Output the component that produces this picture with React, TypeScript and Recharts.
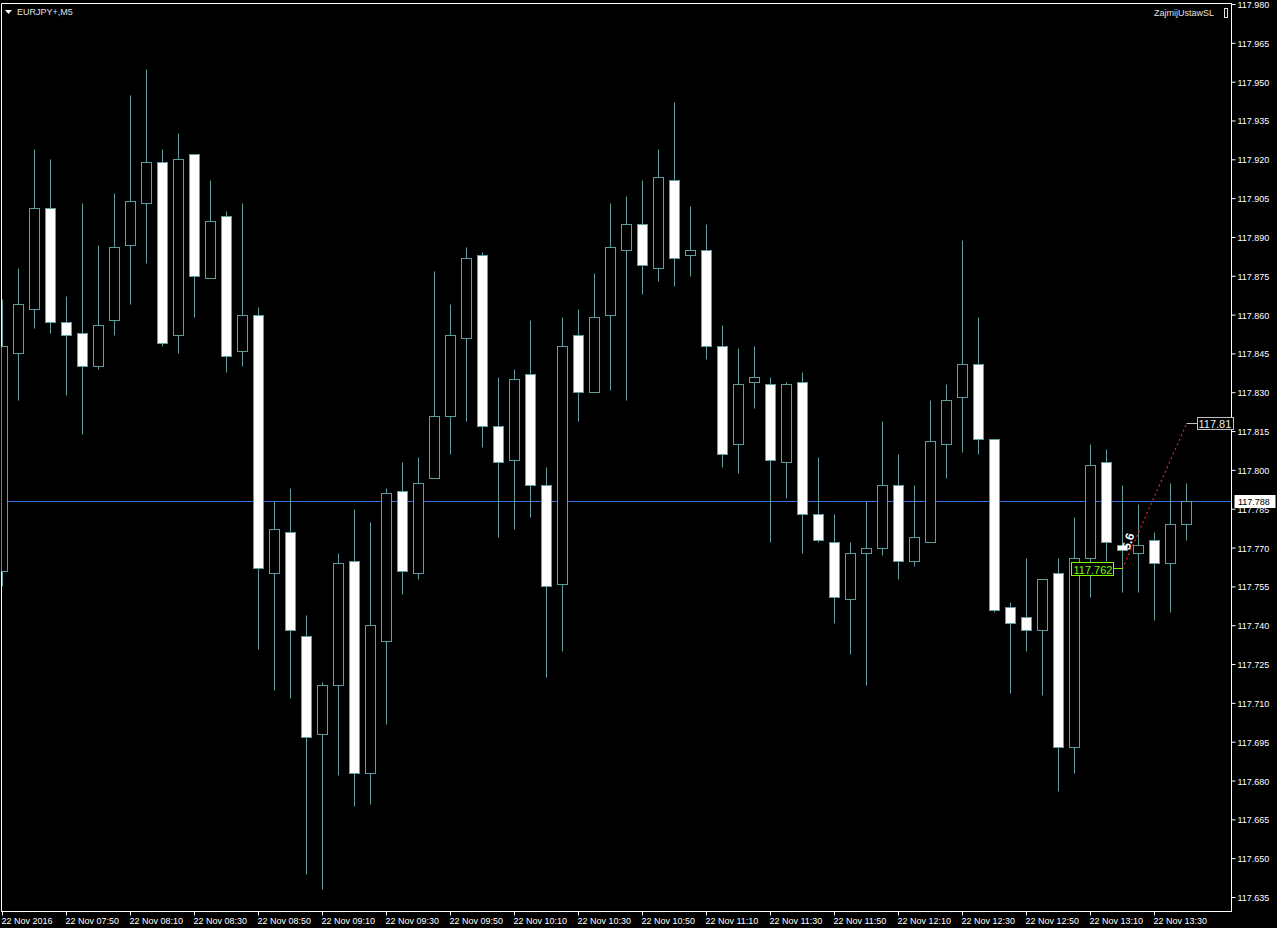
import React from 'react';
import {
  ComposedChart,
  Bar,
  XAxis,
  YAxis,
  ReferenceLine,
  ReferenceDot,
  ReferenceArea,
} from 'recharts';

// ---- data (EURJPY+, M5, 22 Nov 2016, bars from 07:30) ----
const times = [
  '07:30', '07:35', '07:40', '07:45', '07:50', '07:55', '08:00', '08:05', '08:10', '08:15',
  '08:20', '08:25', '08:30', '08:35', '08:40', '08:45', '08:50', '08:55', '09:00', '09:05',
  '09:10', '09:15', '09:20', '09:25', '09:30', '09:35', '09:40', '09:45', '09:50', '09:55',
  '10:00', '10:05', '10:10', '10:15', '10:20', '10:25', '10:30', '10:35', '10:40', '10:45',
  '10:50', '10:55', '11:00', '11:05', '11:10', '11:15', '11:20', '11:25', '11:30', '11:35',
  '11:40', '11:45', '11:50', '11:55', '12:00', '12:05', '12:10', '12:15', '12:20', '12:25',
  '12:30', '12:35', '12:40', '12:45', '12:50', '12:55', '13:00', '13:05', '13:10', '13:15',
  '13:20', '13:25', '13:30', '13:35', '13:40',
];

const opens = [
  117.761, 117.845, 117.862, 117.901, 117.857, 117.853, 117.840, 117.858, 117.887, 117.903,
  117.919, 117.852, 117.922, 117.874, 117.898, 117.846, 117.860, 117.760, 117.776, 117.736,
  117.698, 117.717, 117.765, 117.683, 117.734, 117.792, 117.760, 117.797, 117.821, 117.851,
  117.883, 117.817, 117.804, 117.837, 117.794, 117.756, 117.852, 117.830, 117.860, 117.885,
  117.895, 117.878, 117.912, 117.883, 117.885, 117.848, 117.810, 117.834, 117.833, 117.803,
  117.834, 117.783, 117.772, 117.750, 117.768, 117.770, 117.794, 117.765, 117.772, 117.810,
  117.828, 117.841, 117.812, 117.747, 117.743, 117.738, 117.760, 117.693, 117.766, 117.803,
  117.771, 117.768, 117.773, 117.764, 117.779,
];
const highs = [
  117.866, 117.878, 117.924, 117.920, 117.867, 117.903, 117.887, 117.907, 117.945, 117.955,
  117.924, 117.930, 117.922, 117.912, 117.900, 117.903, 117.863, 117.788, 117.793, 117.744,
  117.718, 117.768, 117.785, 117.780, 117.793, 117.803, 117.805, 117.877, 117.864, 117.886,
  117.884, 117.836, 117.839, 117.858, 117.801, 117.859, 117.862, 117.876, 117.903, 117.906,
  117.912, 117.924, 117.942, 117.902, 117.895, 117.856, 117.847, 117.848, 117.836, 117.834,
  117.838, 117.805, 117.783, 117.772, 117.788, 117.819, 117.806, 117.794, 117.827, 117.833,
  117.889, 117.859, 117.812, 117.749, 117.766, 117.758, 117.766, 117.782, 117.810, 117.808,
  117.794, 117.787, 117.776, 117.795, 117.795,
];
const lows = [
  117.755, 117.827, 117.855, 117.853, 117.829, 117.814, 117.839, 117.852, 117.864, 117.880,
  117.848, 117.845, 117.859, 117.874, 117.838, 117.840, 117.731, 117.715, 117.712, 117.644,
  117.638, 117.682, 117.670, 117.671, 117.702, 117.752, 117.758, 117.797, 117.806, 117.819,
  117.809, 117.774, 117.777, 117.782, 117.720, 117.730, 117.819, 117.830, 117.831, 117.827,
  117.868, 117.873, 117.871, 117.875, 117.843, 117.801, 117.799, 117.824, 117.772, 117.789,
  117.768, 117.772, 117.741, 117.729, 117.717, 117.767, 117.758, 117.763, 117.772, 117.797,
  117.807, 117.806, 117.745, 117.714, 117.730, 117.713, 117.676, 117.683, 117.751, 117.765,
  117.753, 117.753, 117.742, 117.745, 117.773,
];
const closes = [
  117.848, 117.864, 117.901, 117.857, 117.852, 117.840, 117.856, 117.886, 117.904, 117.919,
  117.849, 117.920, 117.875, 117.896, 117.844, 117.860, 117.762, 117.777, 117.738, 117.697,
  117.717, 117.764, 117.683, 117.740, 117.791, 117.761, 117.795, 117.821, 117.852, 117.882,
  117.817, 117.803, 117.835, 117.794, 117.755, 117.848, 117.830, 117.859, 117.886, 117.895,
  117.879, 117.913, 117.882, 117.885, 117.848, 117.806, 117.833, 117.836, 117.804, 117.833,
  117.783, 117.773, 117.751, 117.768, 117.770, 117.794, 117.765, 117.774, 117.811, 117.827,
  117.841, 117.812, 117.746, 117.741, 117.738, 117.758, 117.693, 117.766, 117.802, 117.772,
  117.769, 117.771, 117.764, 117.779, 117.788,
];

const xTickIndex = [0, 4, 8, 12, 16, 20, 24, 28, 32, 36, 40, 44, 48, 52, 56, 60, 64, 68, 72];
const xTickLabels = [
  '22 Nov 2016', '22 Nov 07:50', '22 Nov 08:10', '22 Nov 08:30', '22 Nov 08:50',
  '22 Nov 09:10', '22 Nov 09:30', '22 Nov 09:50', '22 Nov 10:10', '22 Nov 10:30',
  '22 Nov 10:50', '22 Nov 11:10', '22 Nov 11:30', '22 Nov 11:50', '22 Nov 12:10',
  '22 Nov 12:30', '22 Nov 12:50', '22 Nov 13:10', '22 Nov 13:30',
];
const yTicks = [
  117.98, 117.965, 117.95, 117.935, 117.92, 117.905, 117.89, 117.875, 117.86, 117.845,
  117.83, 117.815, 117.8, 117.785, 117.77, 117.755, 117.74, 117.725, 117.71, 117.695,
  117.68, 117.665, 117.65, 117.635,
];

const symbolTitle = 'EURJPY+,M5';
const indicatorName = 'ZajmijUstawSL';
const currentPrice = 117.788;
const trendStart = { idx: 70, price: 117.762, label: '117.762' };
const trendEnd = { idx: 74, price: 117.818, label: '117.81' };
const trendText = '5.6';

const xDomain = [-0.0625, 76.8125];
const yDomain = [117.62959, 117.98039];

// ---- styles ----
const WICK = '#5F9EA0';
const FONT = '"Liberation Sans", Arial, sans-serif';
const TEXT = '#ffffff';
const PRICE_LINE = '#2E6FE0';

const data = times.map((t, i) => ({
  i,
  time: t,
  open: opens[i],
  high: highs[i],
  low: lows[i],
  close: closes[i],
  range: [lows[i], highs[i]],
}));

function CandleShape(props: any) {
  const { x, y, width, height, payload } = props;
  if (!payload) return null;
  const { open, close, high, low } = payload;
  const cx = Math.floor(x + width / 2) + 0.5;
  const span = high - low;
  const k = span > 0 ? height / span : 0;
  const py = (v: number) => Math.floor(y + (high - v) * k) + 0.5;
  const top = py(Math.max(open, close));
  const bot = py(Math.min(open, close));
  const bull = close >= open;
  return (
    <g>
      <line x1={cx} x2={cx} y1={py(high)} y2={py(low)} stroke={WICK} strokeWidth={1} />
      <rect
        x={cx - 5}
        y={top}
        width={10}
        height={Math.max(bot - top, 1)}
        fill={bull ? '#000000' : '#ffffff'}
        stroke={WICK}
        strokeWidth={1}
      />
    </g>
  );
}

function YTick(props: any) {
  const { x, y, payload } = props;
  return (
    <text x={x} y={y + 3.5} fill={TEXT} fontSize={9} fontFamily={FONT} textAnchor="start">
      {Number(payload.value).toFixed(3)}
    </text>
  );
}

function XTick(props: any) {
  const { x, y, payload } = props;
  const idx = xTickIndex.indexOf(payload.value);
  return (
    <text x={x - 1} y={y + 6} fill={TEXT} fontSize={9} fontFamily={FONT} textAnchor="start">
      {idx >= 0 ? xTickLabels[idx] : ''}
    </text>
  );
}

function PriceLineArea(props: any) {
  const { x, y, width } = props;
  if (x == null || y == null) return null;
  const row = Math.floor(y);
  const right = x + width;
  return (
    <g>
      <rect x={Math.floor(x)} y={row} width={Math.round(width)} height={1} fill={PRICE_LINE} stroke="none" />
      <rect x={right + 3} y={row - 6} width={41} height={13} fill="#ffffff" stroke="none" />
      <text x={right + 6.5} y={row + 4} fill="#000000" fontSize={9} fontFamily={FONT}>
        {currentPrice.toFixed(3)}
      </text>
    </g>
  );
}

function StartMarker(props: any) {
  const { cx, cy } = props;
  if (cx == null) return null;
  const x = Math.floor(cx) + 0.5;
  const y = Math.floor(cy) + 0.5;
  return (
    <g>
      <line x1={x - 9} x2={x} y1={y} y2={y} stroke="#7CFC00" strokeWidth={1} />
      <rect x={x - 51} y={y - 6} width={42} height={13} fill="#000000" stroke="#7CFC00" strokeWidth={1} />
      <text x={x - 49} y={y + 5} fill="#7CFC00" fontSize={11} fontFamily={FONT}>
        {trendStart.label}
      </text>
      <text
        x={0}
        y={0}
        fill="#ffffff"
        fontSize={12}
        fontWeight="bold"
        fontFamily={FONT}
        transform={`translate(${x + 7}, ${y - 18}) rotate(-72)`}
      >
        {trendText}
      </text>
    </g>
  );
}

function EndMarker(props: any) {
  const { cx, cy } = props;
  if (cx == null) return null;
  const x = Math.floor(cx) + 0.5;
  const y = Math.floor(cy) + 0.5;
  return (
    <g>
      <line x1={x} x2={x + 11} y1={y} y2={y} stroke="#c0c0c0" strokeWidth={1} />
      <rect x={x + 11} y={y - 6} width={36} height={12} fill="#000000" stroke="#c0c0c0" strokeWidth={1} />
      <text x={x + 12} y={y + 4.5} fill="#e8e8e8" fontSize={11} fontFamily={FONT}>
        {trendEnd.label}
      </text>
    </g>
  );
}

export default function App() {
  return (
    <div style={{ position: 'relative', width: 1277, height: 928, background: '#000000', overflow: 'hidden' }}>
      <style>{'body{margin:0;background:#000;}'}</style>
      <ComposedChart
        width={1277}
        height={928}
        data={data}
        margin={{ top: 3.5, right: 0, bottom: 0, left: 1.5 }}
        style={{ background: '#000000' }}
      >
        <XAxis
          dataKey="i"
          type="number"
          domain={xDomain}
          allowDataOverflow
          ticks={xTickIndex}
          interval={0}
          height={16.5}
          tickSize={4}
          axisLine={{ stroke: '#ffffff' }}
          tickLine={{ stroke: '#ffffff' }}
          tick={<XTick />}
        />
        <YAxis
          orientation="right"
          type="number"
          domain={yDomain}
          allowDataOverflow
          ticks={yTicks}
          interval={0}
          width={45.5}
          tickSize={4}
          axisLine={{ stroke: '#ffffff' }}
          tickLine={{ stroke: '#ffffff' }}
          tick={<YTick />}
        />
        <ReferenceArea
          x1={xDomain[0]}
          x2={xDomain[1]}
          y1={yDomain[0]}
          y2={yDomain[1]}
          fill="none"
          stroke="#ffffff"
          strokeWidth={1}
          fillOpacity={0}
        />
        <ReferenceArea
          x1={xDomain[0]}
          x2={xDomain[1]}
          y1={currentPrice}
          y2={currentPrice}
          fillOpacity={1}
          shape={PriceLineArea}
        />
        <Bar
          dataKey="range"
          barSize={10}
          isAnimationActive={false}
          shape={<CandleShape />}
        />
        <ReferenceLine
          segment={[
            { x: trendStart.idx, y: trendStart.price },
            { x: trendEnd.idx, y: trendEnd.price },
          ]}
          stroke="#ff1a1a"
          strokeWidth={1.2}
          strokeDasharray="2 3"
        />
        <ReferenceDot x={trendStart.idx} y={trendStart.price} r={0} shape={<StartMarker />} />
        <ReferenceDot x={trendEnd.idx} y={trendEnd.price} r={0} shape={<EndMarker />} />
      </ComposedChart>
      <svg
        width={1277}
        height={928}
        style={{ position: 'absolute', left: 0, top: 0, pointerEvents: 'none' }}
      >
        <polygon points="5,10 12,10 8.5,14" fill="#ffffff" />
        <text x={17} y={15} fill="#e0e0e0" fontSize={9} fontFamily={FONT}>
          {symbolTitle}
        </text>
        <text x={1154} y={16} fill="#e0e0e0" fontSize={9} fontFamily={FONT}>
          {indicatorName}
        </text>
        <rect x={1224.5} y={8.5} width={3} height={9} fill="none" stroke="#e0e0e0" strokeWidth={1} />
      </svg>
    </div>
  );
}
